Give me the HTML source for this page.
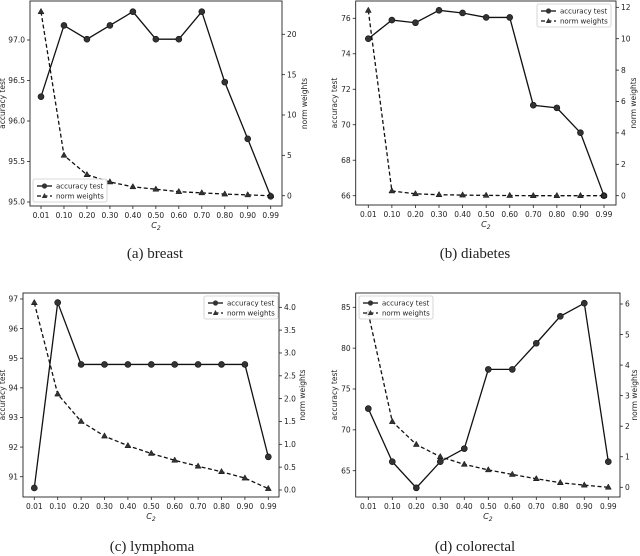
<!DOCTYPE html>
<html><head><meta charset="utf-8"><style>
body{margin:0;background:#fff;}
svg{display:block;font-family:"DejaVu Sans","Liberation Sans",sans-serif;}
.cap{font-family:"Liberation Serif",serif;font-size:15px;}
</style></head><body>
<svg id="s" width="640" height="556"></svg>
<script>
const categories = ["0.01","0.10","0.20","0.30","0.40","0.50","0.60","0.70","0.80","0.90","0.99"];
const accBreast = [96.3,97.18,97.01,97.18,97.35,97.01,97.01,97.35,96.48,95.78,95.07];
const normBreast = [22.8,5.0,2.6,1.7,1.1,0.8,0.5,0.35,0.2,0.1,0.0];
const accDiabetes = [74.85,75.9,75.75,76.45,76.3,76.05,76.05,71.1,70.95,69.55,66.0];
const normDiabetes = [11.8,0.3,0.12,0.06,0.04,0.02,0.01,0.0,0.0,0.0,0.0];
const accLymphoma = [90.62,96.88,94.79,94.79,94.79,94.79,94.79,94.79,94.79,94.79,91.67];
const normLymphoma = [4.1,2.1,1.5,1.18,0.97,0.8,0.65,0.52,0.4,0.26,0.03];
const accColorectal = [72.6,66.1,62.9,66.1,67.7,77.4,77.4,80.6,83.9,85.5,66.1];
const normColorectal = [5.7,2.15,1.4,1.0,0.75,0.57,0.42,0.28,0.15,0.07,0.0];
const leftTicksA=[95.0,95.5,96.0,96.5,97.0], rightTicksA=[0,5,10,15,20];
const leftTicksB=[66,68,70,72,74,76], rightTicksB=[0,2,4,6,8,10,12];
const leftTicksC=[91,92,93,94,95,96,97], rightTicksC=[0,0.5,1,1.5,2,2.5,3,3.5,4];
const leftTicksD=[65,70,75,80,85], rightTicksD=[0,1,2,3,4,5,6];

const S=document.getElementById('s');
const NS='http://www.w3.org/2000/svg';
function mk(tag,attrs,parent){const e=document.createElementNS(NS,tag);for(const k in attrs)e.setAttribute(k,attrs[k]);(parent||S).appendChild(e);return e;}
function txt(x,y,t,attrs,parent){const e=mk('text',Object.assign({x:x,y:y},attrs),parent);e.textContent=t;return e;}

function panel(p){
  const g=mk('g',{});
  
  
  const n=categories.length;
  const xs=i=>p.x0+(p.x1-p.x0)*i/(n-1);
  const yl=v=>p.la[1]+(v-p.la[0])*(p.la[3]-p.la[1])/(p.la[2]-p.la[0]);
  const yr=v=>p.ra[1]+(v-p.ra[0])*(p.ra[3]-p.ra[1])/(p.ra[2]-p.ra[0]);
  const box=mk('rect',{x:p.bx0,y:p.by0,width:p.bx1-p.bx0,height:p.by1-p.by0,fill:'none',stroke:'#222','stroke-width':0.9},g);
  
  
  categories.forEach((c,i)=>{
    const x=xs(i);
    mk('line',{x1:x,x2:x,y1:p.by1,y2:p.by1+3,stroke:'#222','stroke-width':0.8},g);
    const t=txt(x,p.by1+12,c,{'font-size':7.5,'text-anchor':'middle',fill:'#222'},g);
    
    
  });
  p.lt.forEach(v=>{
    const y=yl(v);
    mk('line',{x1:p.bx0-3,x2:p.bx0,y1:y,y2:y,stroke:'#222','stroke-width':0.8},g);
    const t=txt(p.bx0-5,y+2.7,p.lfmt(v),{'font-size':7.5,'text-anchor':'end',fill:'#222'},g);
    
    
  });
  p.rt.forEach(v=>{
    const y=yr(v);
    mk('line',{x1:p.bx1,x2:p.bx1+3,y1:y,y2:y,stroke:'#222','stroke-width':0.8},g);
    const t=txt(p.bx1+5,y+2.7,p.rfmt(v),{'font-size':7.5,'text-anchor':'start',fill:'#222'},g);
    
    
  });
  const xl=txt((p.bx0+p.bx1)/2,p.by1+22,'C',{'font-size':8,'text-anchor':'middle','font-style':'italic',fill:'#222'},g);
  const sub=mk('tspan',{'font-size':6,dy:2},xl);sub.textContent='2';
  
  
  const ylab=txt(0,0,'accuracy test',{'font-size':7.5,'text-anchor':'middle',fill:'#222',transform:`translate(${p.ylx},${(p.by0+p.by1)/2}) rotate(-90)`},g);
  
  
  const yrlab=txt(0,0,'norm weights',{'font-size':7.5,'text-anchor':'middle',fill:'#222',transform:`translate(${p.yrx},${(p.by0+p.by1)/2}) rotate(-90)`},g);
  
  
  // series
  const accPts=p.acc.map((v,i)=>xs(i)+','+yl(v)).join(' ');
  const l1=mk('polyline',{points:accPts,fill:'none',stroke:'#111','stroke-width':1.3},g);
  
  
  p.acc.forEach((v,i)=>{const c=mk('circle',{cx:xs(i),cy:yl(v),r:3,fill:'#333',stroke:'#111','stroke-width':0.6},g);
    
    });
  const nPts=p.norm.map((v,i)=>xs(i)+','+yr(v)).join(' ');
  const l2=mk('polyline',{points:nPts,fill:'none',stroke:'#111','stroke-width':1.3,'stroke-dasharray':'4,2.5'},g);
  
  
  p.norm.forEach((v,i)=>{const x=xs(i),y=yr(v);const t=mk('polygon',{points:`${x},${y-3.3} ${x-3},${y+2} ${x+3},${y+2}`,fill:'#333',stroke:'#111','stroke-width':0.5},g);
    
    });
  // legend
  const L=p.leg;
  const lg=mk('g',{},g);
  
  
  mk('rect',{x:L[0],y:L[1],width:74,height:23,rx:2,fill:'#fff','fill-opacity':0.85,stroke:'#ccc','stroke-width':0.8},lg);
  mk('line',{x1:L[0]+4,x2:L[0]+19,y1:L[1]+7,y2:L[1]+7,stroke:'#111','stroke-width':1.3},lg);
  mk('circle',{cx:L[0]+11.5,cy:L[1]+7,r:2.6,fill:'#333'},lg);
  const e1=txt(L[0]+23,L[1]+9.5,'accuracy test',{'font-size':7,fill:'#222'},lg);
  
  
  mk('line',{x1:L[0]+4,x2:L[0]+19,y1:L[1]+17,y2:L[1]+17,stroke:'#111','stroke-width':1.3,'stroke-dasharray':'4,2.5'},lg);
  mk('polygon',{points:`${L[0]+11.5},${L[1]+14} ${L[0]+8.8},${L[1]+19} ${L[0]+14.2},${L[1]+19}`,fill:'#333'},lg);
  const e2=txt(L[0]+23,L[1]+19.5,'norm weights',{'font-size':7,fill:'#222'},lg);
  
  
  const cap=txt(p.capx,p.capy,p.cap,{'class':'cap','text-anchor':'middle',fill:'#222'},g);
  
  
}
const f1=v=>v.toFixed(1), f0=v=>String(v);
panel({name:'breast',bx0:30,bx1:282,by0:1,by1:206,x0:41,x1:270.7,
  la:[97.0,40,95.0,202],ra:[20,34.3,0,195.7],lt:leftTicksA,rt:rightTicksA,lfmt:f1,rfmt:f0,
  acc:accBreast,norm:normBreast,leg:[33,179],ylx:5,yrx:307,cap:'(a) breast',capx:155,capy:258});
panel({name:'diabetes',bx0:355.7,bx1:616,by0:1,by1:205,x0:368.3,x1:604,
  la:[76,18.3,66,195.7],ra:[12,7.3,0,195.7],lt:leftTicksB,rt:rightTicksB,lfmt:f0,rfmt:f0,
  acc:accDiabetes,norm:normDiabetes,leg:[537,4],ylx:337,yrx:636,cap:'(b) diabetes',capx:475,capy:258});
panel({name:'lymphoma',bx0:23,bx1:279,by0:293,by1:497,x0:34.3,x1:268.3,
  la:[97,299,91,476.7],ra:[4,307.3,0,490],lt:leftTicksC,rt:rightTicksC,lfmt:f0,rfmt:f1,
  acc:accLymphoma,norm:normLymphoma,leg:[204,296],ylx:5,yrx:305,cap:'(c) lymphoma',capx:152,capy:551});
panel({name:'colorectal',bx0:355.7,bx1:620,by0:293,by1:497,x0:368.3,x1:608.3,
  la:[85,307.3,65,470.7],ra:[6,304,0,487.3],lt:leftTicksD,rt:rightTicksD,lfmt:f0,rfmt:f0,
  acc:accColorectal,norm:normColorectal,leg:[359,296],ylx:337,yrx:637,cap:'(d) colorectal',capx:475,capy:551});
</script>
</body></html>
